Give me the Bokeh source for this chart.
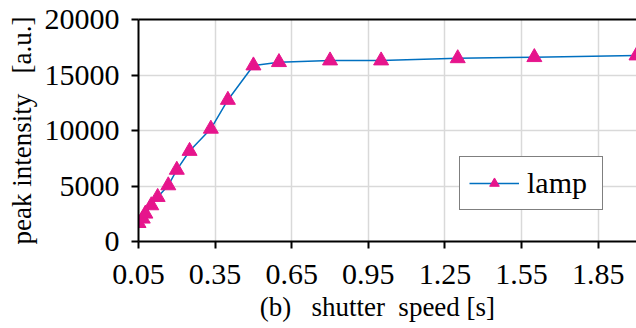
from bokeh.plotting import figure
from bokeh.models import LinearAxis, FixedTicker, Range1d
from bokeh.embed import file_html
from bokeh.resources import INLINE

# shutter speed [s] and measured peak intensity [a.u.] for the lamp
shutter_speed = [0.05, 1/15, 1/13, 0.1, 0.125, 1/6, 0.2, 0.25, 1/3, 0.4,
                 0.5, 0.6, 0.8, 1.0, 1.3, 1.6, 2.0]
peak_intensity = [1650, 2050, 2500, 3250, 4000, 5050, 6450, 8150, 10150, 12750,
                  15850, 16150, 16300, 16300, 16500, 16600, 16750]
x_ticks = [0.05, 0.35, 0.65, 0.95, 1.25, 1.55, 1.85]
y_ticks = [0, 5000, 10000, 15000, 20000]

FONT = "'Liberation Serif', 'Times New Roman', serif"
LINE_COLOR = "#0070C0"
MARKER_COLOR = "#E6158C"

p = figure(width=636, height=328, output_backend="svg", toolbar_location=None,
           x_range=Range1d(0.05, 2.0), y_range=Range1d(0, 20000),
           min_border_left=138, min_border_right=0, min_border_top=19,
           min_border_bottom=87)
p.outline_line_color = None
p.background_fill_color = "white"
p.border_fill_color = "white"

p.line(shutter_speed, peak_intensity, line_color=LINE_COLOR, line_width=1.5,
       legend_label="lamp")
p.scatter(shutter_speed, peak_intensity, marker="triangle", size=15,
          fill_color=MARKER_COLOR, line_color=MARKER_COLOR, legend_label="lamp")

for ax in (p.xaxis[0], p.yaxis[0]):
    ax.axis_line_color = "black"
    ax.axis_line_width = 2
    ax.major_tick_line_color = "black"
    ax.major_tick_line_width = 2
    ax.major_tick_out = 7
    ax.major_tick_in = 0
    ax.minor_tick_line_color = None
    ax.major_label_text_font = FONT
    ax.major_label_text_font_size = "30px"
    ax.major_label_text_color = "black"
    ax.axis_label_text_font = FONT
    ax.axis_label_text_font_size = "27px"
    ax.axis_label_text_font_style = "normal"
    ax.axis_label_text_color = "black"

p.xaxis.ticker = FixedTicker(ticks=x_ticks)
p.yaxis.ticker = FixedTicker(ticks=y_ticks)
p.xaxis.major_label_standoff = 16
p.yaxis.major_label_standoff = 12
p.xaxis.axis_label = "(b)\u00a0\u00a0\u00a0shutter\u00a0\u00a0speed [s]\u00a0\u00a0\u00a0"
p.yaxis.axis_label = "peak\u00a0intensity\u00a0\u00a0\u00a0[a.u.]"
p.xaxis.axis_label_standoff = 5
p.yaxis.axis_label_standoff = 5

# top frame line
top = LinearAxis(ticker=FixedTicker(ticks=[]), major_tick_line_color=None,
                 minor_tick_line_color=None, axis_line_color="black",
                 axis_line_width=2, major_label_standoff=0)
p.add_layout(top, "above")

p.xgrid.ticker = FixedTicker(ticks=x_ticks)
p.ygrid.ticker = FixedTicker(ticks=y_ticks)
p.grid.grid_line_color = "#d9d9d9"
p.grid.grid_line_width = 1.5

lg = p.legend[0]
lg.location = (321, 31)
lg.border_line_color = "black"
lg.border_line_width = 1.5
lg.background_fill_color = "white"
lg.background_fill_alpha = 1
lg.label_text_font = FONT
lg.label_text_font_size = "30px"
lg.label_text_color = "black"
lg.glyph_width = 50
lg.glyph_height = 24
lg.label_width = 66
lg.padding = 9
lg.margin = 0
lg.label_standoff = 8

open("out.html", "w").write(file_html(p, INLINE))
